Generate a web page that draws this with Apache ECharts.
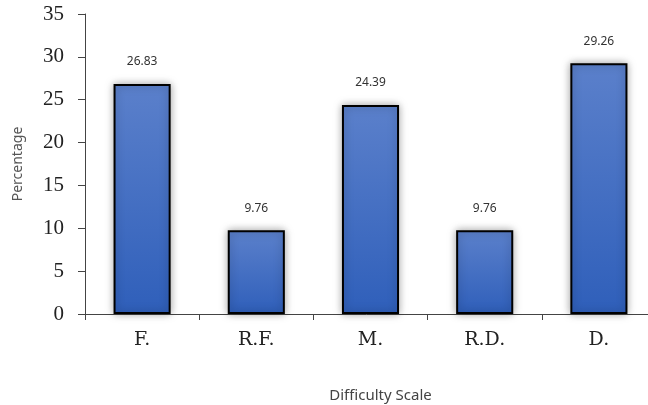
<!DOCTYPE html>
<html>
<head>
<meta charset="utf-8">
<script src="https://cdn.jsdelivr.net/npm/echarts@6/dist/echarts.min.js"></script>
<style>
  html, body { margin: 0; padding: 0; background: #fff; }
  #chart { width: 648px; height: 405px; }
</style>
</head>
<body>
<div id="chart"></div>
<script>
// Difficulty categories and the share of responses in each
const categories = ['F.', 'R.F.', 'M.', 'R.D.', 'D.'];
const percentages = [26.83, 9.76, 24.39, 9.76, 29.26];
const yTicks = { min: 0, max: 35, interval: 5 };

const chart = echarts.init(document.getElementById('chart'));

chart.setOption({
  animation: false,
  grid: { left: 85, top: 14, right: -8, bottom: 91, outerBoundsMode: 'none', containLabel: false },
  xAxis: {
    type: 'category',
    data: categories,
    name: 'Difficulty Scale',
    nameLocation: 'middle',
    nameGap: 74,
    nameTextStyle: { fontFamily: 'Noto Sans', fontSize: 15, color: '#444', padding: [0, 0, 0, 20] },
    axisLine: { lineStyle: { color: '#444', width: 1 } },
    axisTick: { show: true, alignWithLabel: false, length: 6, lineStyle: { color: '#444' } },
    axisLabel: { fontFamily: 'DejaVu Serif', fontSize: 19, color: '#222', margin: 17 }
  },
  yAxis: {
    type: 'value',
    min: yTicks.min,
    max: yTicks.max,
    interval: yTicks.interval,
    name: 'Percentage',
    nameLocation: 'middle',
    nameGap: 60,
    nameTextStyle: { fontFamily: 'Noto Sans', fontSize: 14, color: '#555' },
    axisLine: { show: true, lineStyle: { color: '#444', width: 1 } },
    axisTick: { show: true, length: 7, lineStyle: { color: '#444' } },
    axisLabel: { fontFamily: 'Liberation Serif', fontSize: 21, color: '#222', margin: 21 },
    splitLine: { show: false }
  },
  series: [{
    type: 'bar',
    data: percentages,
    barWidth: '50%',
    itemStyle: {
      color: new echarts.graphic.LinearGradient(0, 0, 0, 1, [
        { offset: 0, color: '#5b80cb' },
        { offset: 1, color: '#2f5fba' }
      ]),
      borderColor: '#000',
      borderWidth: 2,
      shadowColor: 'rgba(0,0,0,0.35)',
      shadowBlur: 8
    },
    label: {
      show: true,
      position: 'top',
      distance: 16,
      formatter: p => p.value.toFixed(2),
      fontFamily: 'Noto Sans',
      fontSize: 12,
      color: '#333'
    }
  }]
});
</script>
</body>
</html>
